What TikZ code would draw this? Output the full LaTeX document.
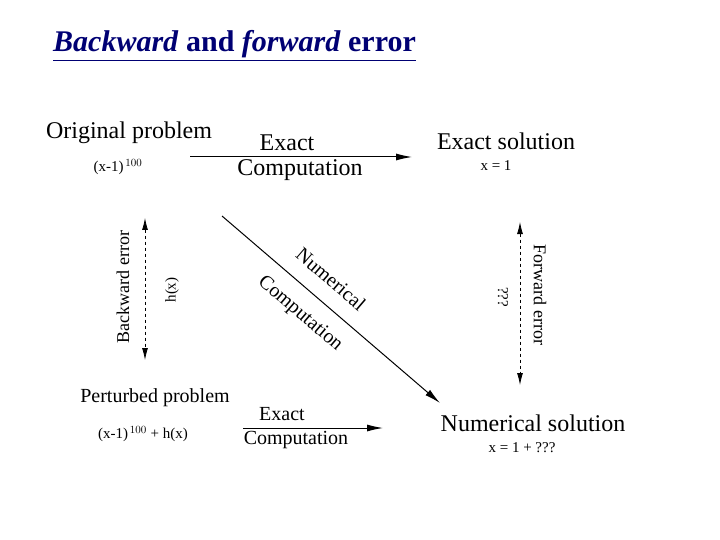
\documentclass[tikz,border=0pt]{standalone}
\usepackage{fontspec}
\setmainfont{Liberation Serif}
\usetikzlibrary{arrows.meta}
\begin{document}
\begin{tikzpicture}[x=1pt,y=-1pt,
  big/.style={inner sep=0pt,font=\fontsize{24}{24}\selectfont},
  mid/.style={inner sep=0pt,font=\fontsize{20}{20}\selectfont},
  lab/.style={inner sep=0pt,font=\fontsize{18}{18}\selectfont},
  small/.style={inner sep=0pt,font=\fontsize{15}{15}\selectfont},
  arr/.style={line width=1pt,-{Latex[length=16pt,width=7pt]}},
  darr/.style={line width=0.8pt,dashed,{Latex[length=12pt,width=6pt]}-{Latex[length=12pt,width=6pt]}}]
\useasboundingbox (0,0) rectangle (720,540);
\node[inner sep=0pt,anchor=base west,text=blue!45!black,font=\fontsize{30}{30}\selectfont\bfseries] (title) at (53,52) {\underline{\textit{Backward} and \textit{forward} error}};
\node[big] (op) at (129,133) {Original problem};
\node[small] (opf) at (118,167) {(x-1)$^{\,100}$};
\node[big] (es) at (506,141) {Exact solution};
\node[small] (esf) at (496,166) {x = 1};
\node[mid] (pp) at (155,398) {Perturbed problem};
\node[small] (ppf) at (143,434) {(x-1)$^{\,100}$ + h(x)};
\node[big] (ns) at (533,423) {Numerical solution};
\node[small] (nsf) at (522,448) {x = 1 + ???};
\coordinate (t1) at (190,157); \coordinate (t2) at (412,157);
\draw[arr] (t1) -- (t2);
\node[big] (e1) at (287,143) {Exact};
\node[big] (c1) at (300,170) {Computation};
\coordinate (b1) at (243,428); \coordinate (b2) at (383,428);
\draw[arr] (b1) -- (b2);
\node[mid] (e2) at (282,414) {Exact};
\node[mid] (c2) at (296,440) {Computation};
\coordinate (d1) at (222,216); \coordinate (d2) at (440,403);
\draw[arr] (d1) -- (d2);
\node[mid,rotate=-40.6] (nc1) at (331,279) {Numerical};
\node[mid,rotate=-40.6] (nc2) at (300,314) {Computation};
\coordinate (l1) at (145,218); \coordinate (l2) at (145,360);
\draw[darr] (l1) -- (l2);
\node[lab,rotate=90] (be) at (123,287) {Backward error};
\node[small,rotate=90] (hx) at (172,290) {h(x)};
\coordinate (r1) at (520,222); \coordinate (r2) at (520,385);
\draw[darr] (r1) -- (r2);
\node[lab,rotate=-90] (fe) at (540,295) {Forward error};
\node[small,rotate=-90] (qq) at (503,297) {???};
\end{tikzpicture}
\end{document}
